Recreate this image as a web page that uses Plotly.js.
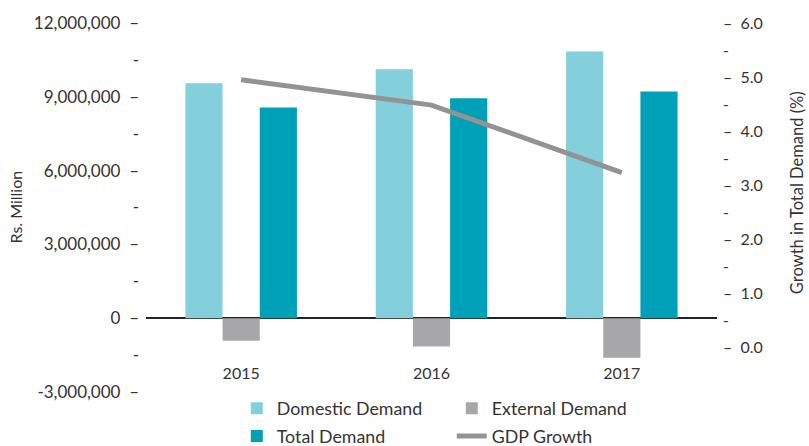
<!DOCTYPE html>
<html>
<head>
<meta charset="utf-8">
<script src="https://cdn.plot.ly/plotly-3.0.1.min.js"></script>
<style>html,body{margin:0;padding:0;background:#fff;}#chart{width:809px;height:446px;}</style>
</head>
<body>
<div id="chart"></div>
<script>
const years = ['2015', '2016', '2017'];
const domesticDemand = [9550000, 10120000, 10840000];
const externalDemand = [-920000, -1150000, -1610000];
const totalDemand = [8570000, 8940000, 9220000];
const gdpGrowth = [4.95, 4.48, 3.23];

const leftTickVals = [-3000000, -1500000, 0, 1500000, 3000000, 4500000, 6000000, 7500000, 9000000, 10500000, 12000000];
const leftTickText = ['-3,000,000  \u2013', '-', '0  \u2013', '-', '3,000,000  \u2013', '-', '6,000,000  \u2013', '-', '9,000,000  \u2013', '-', '12,000,000  \u2013'];
const rightTickVals = [0, 0.5, 1, 1.5, 2, 2.5, 3, 3.5, 4, 4.5, 5, 5.5, 6];
const rightTickText = ['\u2013  0.0', '-', '\u2013  1.0', '-', '\u2013  2.0', '-', '\u2013  3.0', '-', '\u2013  4.0', '-', '\u2013  5.0', '-', '\u2013  6.0'];

const FONT = 'Lato, "Open Sans", sans-serif';

const traces = [
  {type: 'bar', name: 'Domestic Demand', x: years, y: domesticDemand, marker: {color: '#83CFDB'}, legend: 'legend'},
  {type: 'bar', name: 'External Demand', x: years, y: externalDemand, marker: {color: '#A7A7A9'}, legend: 'legend'},
  {type: 'bar', name: 'Total Demand', x: years, y: totalDemand, marker: {color: '#00A0B8'}, legend: 'legend2'},
  {type: 'scatter', mode: 'lines', name: 'GDP Growth', x: years, y: gdpGrowth, yaxis: 'y2',
   line: {color: '#939393', width: 5}, legend: 'legend2'}
];

const layout = {
  width: 809, height: 446,
  margin: {l: 146, r: 92, t: 23, b: 54, autoexpand: false},
  paper_bgcolor: '#fff', plot_bgcolor: '#fff',
  font: {family: FONT, color: '#333', size: 16},
  showlegend: true,
  barmode: 'group', bargap: 0.414, bargroupgap: 0,
  xaxis: {
    type: 'category', range: [-0.5, 2.5], anchor: 'free', position: 0.08,
    showline: false, showgrid: false, zeroline: false, ticks: '',
    tickfont: {size: 16, color: '#333'}
  },
  yaxis: {
    range: [-3000000, 12000000], tickmode: 'array', tickvals: leftTickVals, ticktext: leftTickText,
    showgrid: false, showline: false, ticks: '', zeroline: true, zerolinecolor: '#222', zerolinewidth: 1.5,
    tickfont: {size: 17, color: '#333'}, ticklabelstandoff: 6
  },
  yaxis2: {
    overlaying: 'y', side: 'right', range: [-0.8333, 6], tickmode: 'array', tickvals: rightTickVals, ticktext: rightTickText,
    showgrid: false, showline: false, ticks: '', zeroline: false,
    tickfont: {size: 16, color: '#333'}, ticklabelstandoff: 5
  },
  legend: {orientation: 'h', x: 0.159, xanchor: 'left', y: 0.005, yanchor: 'top', entrywidth: 170,
           font: {size: 17.8, color: '#333'}, bgcolor: 'rgba(0,0,0,0)', traceorder: 'normal'},
  legend2: {orientation: 'h', x: 0.159, xanchor: 'left', y: -0.07, yanchor: 'top', entrywidth: 170,
           font: {size: 17.8, color: '#333'}, bgcolor: 'rgba(0,0,0,0)', traceorder: 'normal'},
  annotations: [
    {text: 'Rs. Million', xref: 'paper', yref: 'paper', x: -0.2294, y: 0.5, textangle: -90,
     showarrow: false, xanchor: 'center', yanchor: 'middle', font: {size: 16, color: '#333'}},
    {text: 'Growth in Total Demand (%)', xref: 'paper', yref: 'paper', x: 1.14, y: 0.5415, textangle: -90,
     showarrow: false, xanchor: 'center', yanchor: 'middle', font: {size: 16.5, color: '#333'}}
  ]
};

Plotly.newPlot('chart', traces, layout, {displayModeBar: false, staticPlot: true});
</script>
</body>
</html>
